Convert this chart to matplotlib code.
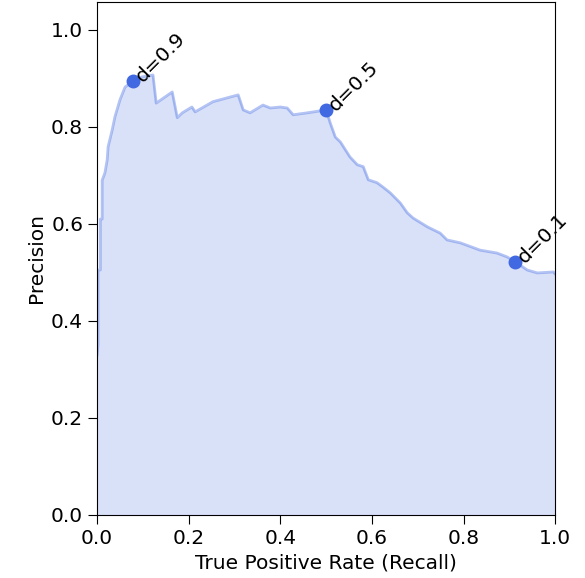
import numpy as np
import matplotlib
matplotlib.use('Agg')
import matplotlib.pyplot as plt

# precision-recall curve
recall = [0.000, 0.002, 0.002, 0.007, 0.007, 0.011, 0.011, 0.017, 0.022, 0.024,
          0.033, 0.039, 0.050, 0.061, 0.079, 0.098, 0.122, 0.129, 0.164, 0.175,
          0.186, 0.207, 0.214, 0.253, 0.308, 0.319, 0.334, 0.362, 0.378, 0.400,
          0.415, 0.428, 0.459, 0.500, 0.509, 0.520, 0.531, 0.552, 0.568, 0.581,
          0.592, 0.611, 0.624, 0.640, 0.662, 0.677, 0.690, 0.721, 0.749, 0.764,
          0.793, 0.836, 0.873, 0.895, 0.913, 0.939, 0.961, 0.996, 1.000]
precision = [0.330, 0.350, 0.505, 0.505, 0.610, 0.610, 0.690, 0.705, 0.732, 0.759,
             0.794, 0.821, 0.856, 0.882, 0.895, 0.903, 0.907, 0.849, 0.872, 0.819,
             0.829, 0.841, 0.831, 0.852, 0.866, 0.835, 0.829, 0.845, 0.839, 0.841,
             0.839, 0.825, 0.829, 0.835, 0.808, 0.779, 0.769, 0.738, 0.722, 0.718,
             0.691, 0.685, 0.676, 0.664, 0.643, 0.623, 0.612, 0.594, 0.581, 0.567,
             0.561, 0.546, 0.540, 0.532, 0.522, 0.505, 0.499, 0.501, 0.497]

# decision thresholds marked on the curve
thresh_labels = ['d=0.9', 'd=0.5', 'd=0.1']
thresh_recall = [0.079, 0.500, 0.913]
thresh_precision = [0.895, 0.835, 0.522]

color = 'royalblue'
fs = 14.5

fig = plt.figure(figsize=(5.85, 5.78), dpi=100)
ax = fig.add_axes([0.166, 0.109, 0.783, 0.888])

ax.fill_between(recall, precision, color=color, alpha=0.2, linewidth=0)
ax.plot(recall, precision, color=color, alpha=0.4, linewidth=2)
ax.plot(thresh_recall, thresh_precision, 'o', color=color, markersize=9)

for lab, x, y in zip(thresh_labels, thresh_recall, thresh_precision):
    ax.annotate(lab, (x, y), xytext=(4, 1), textcoords='offset points',
                rotation=45, rotation_mode='anchor', ha='left', va='center',
                fontsize=fs)

ax.set_xlim(0, 1)
ax.set_ylim(0, 1.058)
ax.set_xticks(np.arange(0, 1.01, 0.2))
ax.set_yticks(np.arange(0, 1.01, 0.2))
ax.tick_params(labelsize=fs, length=6.5)
ax.set_xlabel('True Positive Rate (Recall)', fontsize=fs)
ax.set_ylabel('Precision', fontsize=fs)

fig.savefig('out.png', dpi=100)
